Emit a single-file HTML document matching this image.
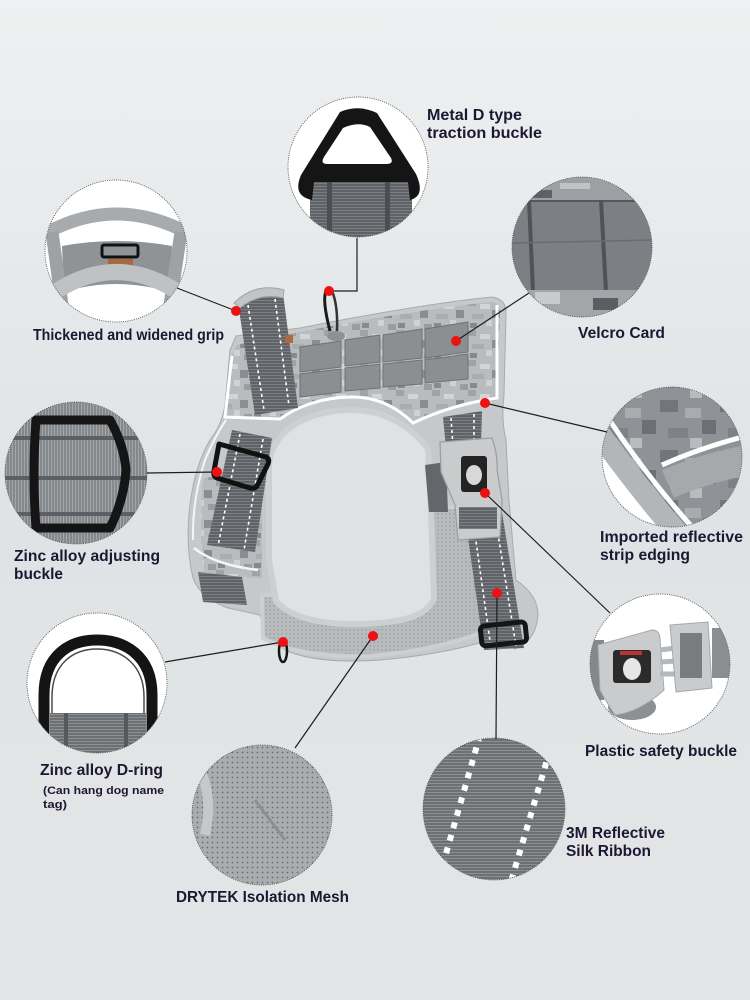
<!DOCTYPE html>
<html><head><meta charset="utf-8">
<style>
html,body{margin:0;padding:0;}
body{width:750px;height:1000px;overflow:hidden;background:#e4e6e8;}
svg{display:block;}
text{font-family:"Liberation Sans",Arial,sans-serif;font-weight:bold;fill:#1d1832;}
</style></head><body>
<svg width="750" height="1000" viewBox="0 0 750 1000" xmlns="http://www.w3.org/2000/svg">
<defs>
<linearGradient id="bg" x1="0" y1="0" x2="0" y2="1">
<stop offset="0" stop-color="#eef0f1"/><stop offset="0.5" stop-color="#e0e3e5"/><stop offset="1" stop-color="#e3e5e6"/>
</linearGradient>
<pattern id="camo" width="36" height="30" patternUnits="userSpaceOnUse">
<rect width="36" height="30" fill="#b9bcbf"/>
<rect x="0" y="0" width="8" height="6" fill="#9fa3a6"/>
<rect x="12" y="4" width="10" height="5" fill="#d2d4d6"/>
<rect x="24" y="10" width="8" height="8" fill="#8a8e92"/>
<rect x="4" y="14" width="12" height="5" fill="#a9adb0"/>
<rect x="18" y="20" width="6" height="6" fill="#cfd1d3"/>
<rect x="28" y="24" width="8" height="6" fill="#999da0"/>
<rect x="2" y="23" width="7" height="5" fill="#868a8e"/>
</pattern>
<pattern id="camo2" width="60" height="50" patternUnits="userSpaceOnUse">
<rect width="60" height="50" fill="#8f9397"/>
<rect x="0" y="0" width="18" height="12" fill="#72767a"/>
<rect x="25" y="8" width="16" height="10" fill="#a9acaf"/>
<rect x="42" y="20" width="14" height="14" fill="#6c7074"/>
<rect x="8" y="28" width="20" height="10" fill="#7e8286"/>
<rect x="30" y="38" width="12" height="10" fill="#b9bcbe"/>
</pattern>
<pattern id="web" width="6" height="3" patternUnits="userSpaceOnUse">
<rect width="6" height="3" fill="#5f6266"/><rect width="6" height="1" fill="#7b7e82"/>
</pattern>
<pattern id="web2" width="6" height="3" patternUnits="userSpaceOnUse">
<rect width="6" height="3" fill="#6c7073"/><rect width="6" height="1" fill="#8d9093"/>
</pattern>
<pattern id="webv" width="3" height="6" patternUnits="userSpaceOnUse">
<rect width="3" height="6" fill="#85888b"/><rect width="1" height="6" fill="#a3a6a9"/>
</pattern>
<pattern id="mesh" width="5" height="5" patternUnits="userSpaceOnUse">
<rect width="5" height="5" fill="#a9adb0"/><circle cx="2.5" cy="2.5" r="0.9" fill="#6a6e72"/>
</pattern>
<pattern id="meshs" width="4" height="4" patternUnits="userSpaceOnUse">
<rect width="4" height="4" fill="#b9bcbf"/><circle cx="2" cy="2" r="0.7" fill="#8f9396"/>
</pattern>
<clipPath id="c1"><circle cx="358" cy="167" r="70"/></clipPath>
<clipPath id="c2"><circle cx="116" cy="251" r="71"/></clipPath>
<clipPath id="c3"><circle cx="582" cy="247" r="70"/></clipPath>
<clipPath id="c4"><circle cx="76" cy="473" r="71"/></clipPath>
<clipPath id="c5"><circle cx="672" cy="457" r="70"/></clipPath>
<clipPath id="c6"><circle cx="660" cy="664" r="70"/></clipPath>
<clipPath id="c7"><circle cx="97" cy="683" r="70"/></clipPath>
<clipPath id="c8"><circle cx="262" cy="815" r="70"/></clipPath>
<clipPath id="c9"><circle cx="494" cy="809" r="71"/></clipPath>
<clipPath id="body"><path d="M236,345 L295,333 C360,320 440,307 492,302 Q500,303 500,312 L497,400 C470,402 440,410 413,423 C400,410 380,397 353,397 C320,398 295,410 280,420 L225,418 L230,360 Z"/></clipPath>
</defs>

<rect width="750" height="1000" fill="url(#bg)"/>

<!-- ========== HARNESS ========== -->
<!-- outer padding silhouette -->
<path d="M236,336 L300,328 C360,316 440,302 492,297 Q507,299 506,315 L504,395 Q501,420 506,440 L509,500 L516,580 Q538,595 538,615 Q536,641 515,649 L490,640 Q440,655 380,660 Q320,664 290,652 Q266,642 260,615 L228,608 Q200,598 193,578 Q185,545 190,505 Q195,465 210,440 Q222,425 225,405 L230,350 Z" fill="#c6c9cb" stroke="#a8abae" stroke-width="1"/>
<!-- left camo region -->
<path d="M203,478 L262,470 L262,578 L205,575 Q198,540 203,478 Z" fill="url(#camo)"/>
<path d="M194,548 Q215,565 258,570" stroke="#f4f5f6" stroke-width="2.5" fill="none"/>
<path d="M193,540 Q192,500 205,460 Q215,436 226,420" stroke="#f4f5f6" stroke-width="2" fill="none"/>
<!-- camo body panel -->
<rect x="220" y="295" width="290" height="135" fill="url(#camo)" clip-path="url(#body)"/>
<!-- reflective white edging -->
<path d="M232,356 L225,417 L280,419 C295,408 320,397 353,397 C380,397 400,410 413,423 C440,410 470,402 497,398 L497,305" stroke="#ffffff" stroke-width="3" fill="none"/>
<!-- mesh area -->
<path d="M262,595 L263,638 Q300,658 370,656 Q440,650 488,630 L486,515 Q465,505 440,508 L430,512 L430,600 Z" fill="url(#meshs)" stroke="#cdd0d2" stroke-width="4" stroke-linejoin="round"/>
<!-- neck opening rim + hole -->
<path d="M272,465 C276,428 315,413 352,413 C385,413 410,430 425,450 L428,510 L431,598 C424,614 400,620 360,621 C320,622 292,614 279,600 L272,560 Z" fill="#cdd0d2" stroke="#cdd0d2" stroke-width="12" stroke-linejoin="round"/>
<path d="M272,465 C276,428 315,413 352,413 C385,413 410,430 425,450 L428,510 L431,598 C424,614 400,620 360,621 C320,622 292,614 279,600 L272,560 Z" fill="#dfe2e4"/>
<!-- dark strap under buckle -->
<polygon points="425,465 446,462 448,512 429,512" fill="#63666a"/>
<!-- velcro patches -->
<g fill="#8b8f92" stroke="#6f7376" stroke-width="1">
<polygon points="300,347 341,341 341,367 300,372"/>
<polygon points="300,374 341,369 341,392 300,397"/>
<polygon points="345,340 380,335 380,362 345,366"/>
<polygon points="345,368 380,364 380,388 345,391"/>
<polygon points="383,335 422,329 422,358 383,362"/>
<polygon points="383,364 422,360 422,384 383,387"/>
<polygon points="425,329 468,322 468,352 425,358"/>
<polygon points="425,360 468,354 468,379 425,383"/>
</g>
<!-- grip strap -->
<polygon points="238,303 283,293 298,408 255,415" fill="url(#web)"/>
<path d="M234,303 Q255,282 284,290 L283,298 Q260,292 240,308 Z" fill="#c2c5c7" stroke="#9fa2a5" stroke-width="1"/>
<line x1="248" y1="305" x2="264" y2="410" stroke="#fff" stroke-width="1.6" stroke-dasharray="3 3"/>
<line x1="275" y1="299" x2="289" y2="406" stroke="#fff" stroke-width="1.6" stroke-dasharray="3 3"/>
<rect x="285" y="335" width="8" height="8" fill="#b06a3a"/>
<!-- top D ring -->
<path d="M326,291 Q322,300 330,331" stroke="#1a1a1a" stroke-width="3" fill="none"/>
<path d="M332,291 Q338,305 337,331" stroke="#333" stroke-width="2.5" fill="none"/>
<ellipse cx="336" cy="336" rx="9" ry="5" fill="#8d9194"/>
<!-- left strap with buckle -->
<polygon points="232,430 272,438 255,552 207,545" fill="url(#web)"/>
<line x1="240" y1="434" x2="218" y2="546" stroke="#fff" stroke-width="1.6" stroke-dasharray="3 3"/>
<line x1="263" y1="439" x2="244" y2="550" stroke="#fff" stroke-width="1.6" stroke-dasharray="3 3"/>
<polygon points="198,572 242,577 247,605 203,602" fill="url(#web)"/>
<path d="M219,444 L266,457 Q270,459 268,464 L257,486 Q255,489 250,488 L217,478 Q213,476 214,471 Z" fill="none" stroke="#111" stroke-width="5" stroke-linejoin="round"/>
<!-- right upper strap -->
<polygon points="443,417 482,411 481,446 446,448" fill="url(#web)"/>
<line x1="451" y1="418" x2="453" y2="446" stroke="#fff" stroke-width="1.6" stroke-dasharray="3 3"/>
<line x1="474" y1="414" x2="474" y2="446" stroke="#fff" stroke-width="1.6" stroke-dasharray="3 3"/>
<!-- right lower strap -->
<polygon points="463,503 500,500 524,648 484,650" fill="url(#web)"/>
<line x1="471" y1="506" x2="491" y2="648" stroke="#fff" stroke-width="1.6" stroke-dasharray="3 3"/>
<line x1="493" y1="503" x2="516" y2="646" stroke="#fff" stroke-width="1.6" stroke-dasharray="3 3"/>
<rect x="481" y="624" width="45" height="20" rx="4" fill="none" stroke="#151515" stroke-width="5" transform="rotate(-6 503 634)"/>
<!-- plastic buckle -->
<path d="M440,442 L492,438 Q498,455 497,470 L502,500 L500,537 L458,540 L455,505 L441,472 Z" fill="#c9cbcd" stroke="#9a9da0" stroke-width="1.2"/>
<rect x="461" y="456" width="26" height="36" rx="3" fill="#232323"/>
<ellipse cx="474" cy="475" rx="8" ry="10" fill="#d8d8d8"/>
<rect x="459" y="507" width="38" height="22" fill="url(#web)"/>
<!-- bottom D ring -->
<ellipse cx="283" cy="651" rx="4" ry="11" fill="none" stroke="#151515" stroke-width="2.5"/>

<!-- ========== CIRCLES ========== -->
<!-- c1 Metal D -->
<g clip-path="url(#c1)">
<rect x="280" y="90" width="160" height="160" fill="#fff"/>
<rect x="310" y="180" width="102" height="62" fill="url(#web)"/>
<rect x="327" y="180" width="5" height="62" fill="#4b4e52"/>
<rect x="385" y="180" width="5" height="62" fill="#4b4e52"/>
<path d="M340,112 Q358,104 377,113 L416,174 Q426,196 410,200 L408,182 L314,182 L312,200 Q292,196 301,175 Z" fill="#151515"/>
<path d="M343,128 Q358,121 370,127 L391,158 Q394,164 386,164 L327,164 Q320,164 324,157 Z" fill="#fff"/>
</g>
<circle cx="358" cy="167" r="70" fill="none" stroke="#555" stroke-width="0.9" stroke-dasharray="1 1.2"/>

<!-- c2 grip -->
<g clip-path="url(#c2)">
<rect x="40" y="175" width="160" height="160" fill="#fff"/>
<path d="M62,246 Q116,236 172,246 L170,292 Q116,276 64,292 Z" fill="#8f9396"/>
<path d="M48,232 Q116,196 186,232" stroke="#a7abae" stroke-width="13" fill="none"/>
<path d="M52,232 L62,305" stroke="#9ea2a5" stroke-width="13" fill="none"/>
<path d="M181,232 L170,305" stroke="#9ea2a5" stroke-width="13" fill="none"/>
<rect x="102" y="245" width="36" height="12" rx="2" fill="none" stroke="#111" stroke-width="3"/>
<rect x="108" y="259" width="25" height="8" fill="#a8683a"/>
<path d="M55,292 Q116,252 178,292" stroke="#bfc2c4" stroke-width="16" fill="none"/>
</g>
<circle cx="116" cy="251" r="71" fill="none" stroke="#555" stroke-width="0.9" stroke-dasharray="1 1.2"/>

<!-- c3 velcro -->
<g clip-path="url(#c3)">
<rect x="510" y="175" width="145" height="145" fill="#7c8084"/>
<rect x="510" y="175" width="145" height="25" fill="#9ca0a3"/>
<rect x="530" y="190" width="22" height="8" fill="#5e6266"/>
<rect x="560" y="183" width="30" height="6" fill="#c0c3c5"/>
<line x1="510" y1="201" x2="655" y2="201" stroke="#55595d" stroke-width="2"/>
<line x1="529" y1="200" x2="533" y2="292" stroke="#4f5357" stroke-width="4"/>
<line x1="601" y1="200" x2="606" y2="292" stroke="#4f5357" stroke-width="4"/>
<line x1="510" y1="243" x2="655" y2="240" stroke="#696d71" stroke-width="1.5"/>
<rect x="510" y="290" width="145" height="30" fill="#a2a6a9"/>
<rect x="535" y="292" width="25" height="12" fill="#c8cbcd"/>
<rect x="593" y="298" width="25" height="12" fill="#5a5e62"/>
</g>
<circle cx="582" cy="247" r="70" fill="none" stroke="#555" stroke-width="0.9" stroke-dasharray="1 1.2"/>

<!-- c4 zinc adjusting buckle -->
<g clip-path="url(#c4)">
<rect x="0" y="400" width="150" height="150" fill="url(#webv)"/>
<rect x="0" y="436" width="150" height="4" fill="#5c5f63"/>
<rect x="0" y="476" width="150" height="4" fill="#5c5f63"/>
<rect x="0" y="512" width="150" height="4" fill="#5c5f63"/>
<path d="M36,420 L110,420 Q124,445 126,470 Q124,500 110,528 L36,528 Q32,474 36,420 Z" stroke="#151515" stroke-width="9" fill="none" stroke-linejoin="round"/>
</g>
<circle cx="76" cy="473" r="71" fill="none" stroke="#555" stroke-width="0.9" stroke-dasharray="1 1.2"/>

<!-- c5 reflective edging -->
<g clip-path="url(#c5)">
<rect x="600" y="385" width="145" height="145" fill="url(#camo2)"/>
<path d="M600,440 Q640,500 682,545 L590,545 Z" fill="#fff"/>
<path d="M598,432 Q640,490 680,536" stroke="#b3b6b9" stroke-width="22" fill="none"/>
<path d="M608,418 Q648,478 693,528" stroke="#fff" stroke-width="5" fill="none"/>
<path d="M668,484 Q705,468 748,460" stroke="#a6a9ac" stroke-width="30" fill="none"/>
<path d="M662,465 Q700,448 746,436" stroke="#fff" stroke-width="5" fill="none"/>
</g>
<circle cx="672" cy="457" r="70" fill="none" stroke="#555" stroke-width="0.9" stroke-dasharray="1 1.2"/>

<!-- c6 plastic safety buckle -->
<g clip-path="url(#c6)">
<rect x="588" y="592" width="145" height="145" fill="#fff"/>
<rect x="588" y="640" width="16" height="60" fill="#85888b"/>
<ellipse cx="632" cy="707" rx="24" ry="13" fill="#8d9093"/>
<path d="M598,645 L652,630 Q660,630 660,640 L664,690 Q640,712 615,715 Q605,700 600,690 Z" fill="#c9cbcd" stroke="#a5a8ab"/>
<rect x="613" y="650" width="38" height="33" rx="3" fill="#2b2b2b"/>
<ellipse cx="632" cy="669" rx="9" ry="11" fill="#e6e6e6"/>
<rect x="620" y="651" width="22" height="4" fill="#b33"/>
<line x1="660" y1="650" x2="676" y2="648" stroke="#b5b8ba" stroke-width="5"/>
<line x1="660" y1="662" x2="676" y2="661" stroke="#b5b8ba" stroke-width="5"/>
<line x1="660" y1="674" x2="676" y2="674" stroke="#b5b8ba" stroke-width="5"/>
<rect x="712" y="628" width="22" height="50" fill="#8b8e91"/>
<path d="M670,625 L708,622 L712,688 L676,692 Z" fill="#c9cbcd" stroke="#a5a8ab"/>
<rect x="680" y="633" width="22" height="45" fill="#7a7d80"/>
</g>
<circle cx="660" cy="664" r="70" fill="none" stroke="#555" stroke-width="0.9" stroke-dasharray="1 1.2"/>

<!-- c7 D-ring -->
<g clip-path="url(#c7)">
<rect x="25" y="612" width="145" height="145" fill="#fff"/>
<path d="M44,740 L44,695 C44,655 70,640 97,640 C124,640 152,655 152,695 L152,740" stroke="#141414" stroke-width="11" fill="none"/>
<path d="M52,730 L52,697 C52,664 73,649 97,649 C121,649 144,664 144,697 L144,730" stroke="#4a4a4a" stroke-width="1.5" fill="none"/>
<rect x="50" y="713" width="96" height="47" fill="url(#web2)"/>
<rect x="64" y="713" width="4" height="47" fill="#55585c"/>
<rect x="124" y="713" width="4" height="47" fill="#55585c"/>
</g>
<circle cx="97" cy="683" r="70" fill="none" stroke="#555" stroke-width="0.9" stroke-dasharray="1 1.2"/>

<!-- c8 mesh -->
<g clip-path="url(#c8)">
<rect x="190" y="744" width="145" height="145" fill="url(#mesh)"/>
<path d="M194,760 Q215,790 205,835" stroke="#c6c9cb" stroke-width="10" fill="none"/>
<path d="M255,800 L285,840" stroke="#8b8f92" stroke-width="3" fill="none"/>
</g>
<circle cx="262" cy="815" r="70" fill="none" stroke="#555" stroke-width="0.9" stroke-dasharray="1 1.2"/>

<!-- c9 3M ribbon -->
<g clip-path="url(#c9)">
<rect x="420" y="736" width="150" height="150" fill="url(#web2)"/>
<line x1="480" y1="735" x2="437" y2="885" stroke="#fff" stroke-width="6" stroke-dasharray="6 7"/>
<line x1="550" y1="750" x2="510" y2="885" stroke="#fff" stroke-width="6" stroke-dasharray="6 7"/>
</g>
<circle cx="494" cy="809" r="71" fill="none" stroke="#555" stroke-width="0.9" stroke-dasharray="1 1.2"/>

<!-- ========== CONNECTORS ========== -->
<g stroke="#1e1e1e" stroke-width="1.2" fill="none">
<line x1="177" y1="288" x2="236" y2="311"/>
<polyline points="329,291 357,291 357,238"/>
<line x1="456" y1="341" x2="529" y2="293"/>
<line x1="485" y1="403" x2="607" y2="432"/>
<line x1="147" y1="473" x2="217" y2="472"/>
<line x1="485" y1="493" x2="610" y2="613"/>
<line x1="165" y1="662" x2="283" y2="642"/>
<line x1="373" y1="636" x2="295" y2="748"/>
<line x1="497" y1="593" x2="496" y2="739"/>
</g>
<g fill="#ee1111">
<circle cx="236" cy="311" r="5"/>
<circle cx="329" cy="291" r="5"/>
<circle cx="456" cy="341" r="5"/>
<circle cx="485" cy="403" r="5"/>
<circle cx="217" cy="472" r="5"/>
<circle cx="485" cy="493" r="5"/>
<circle cx="283" cy="642" r="5"/>
<circle cx="373" cy="636" r="5"/>
<circle cx="497" cy="593" r="5"/>
</g>

<!-- ========== LABELS ========== -->
<text x="427" y="120" font-size="16" textLength="95" lengthAdjust="spacingAndGlyphs">Metal D type</text>
<text x="427" y="138" font-size="16" textLength="115" lengthAdjust="spacingAndGlyphs">traction buckle</text>
<text x="33" y="340" font-size="16" textLength="191" lengthAdjust="spacingAndGlyphs">Thickened and widened grip</text>
<text x="578" y="338" font-size="16" textLength="87" lengthAdjust="spacingAndGlyphs">Velcro Card</text>
<text x="14" y="561" font-size="16" textLength="146" lengthAdjust="spacingAndGlyphs">Zinc alloy adjusting</text>
<text x="14" y="579" font-size="16" textLength="49" lengthAdjust="spacingAndGlyphs">buckle</text>
<text x="600" y="542" font-size="16" textLength="143" lengthAdjust="spacingAndGlyphs">Imported reflective</text>
<text x="600" y="560" font-size="16" textLength="90" lengthAdjust="spacingAndGlyphs">strip edging</text>
<text x="585" y="756" font-size="16" textLength="152" lengthAdjust="spacingAndGlyphs">Plastic safety buckle</text>
<text x="40" y="775" font-size="16" textLength="123" lengthAdjust="spacingAndGlyphs">Zinc alloy D-ring</text>
<text x="43" y="794" font-size="11" textLength="121" lengthAdjust="spacingAndGlyphs">(Can hang dog name</text>
<text x="43" y="808" font-size="11" textLength="24" lengthAdjust="spacingAndGlyphs">tag)</text>
<text x="566" y="838" font-size="16" textLength="99" lengthAdjust="spacingAndGlyphs">3M Reflective</text>
<text x="566" y="856" font-size="16" textLength="85" lengthAdjust="spacingAndGlyphs">Silk Ribbon</text>
<text x="176" y="902" font-size="16" textLength="173" lengthAdjust="spacingAndGlyphs">DRYTEK Isolation Mesh</text>
</svg>
</body></html>
